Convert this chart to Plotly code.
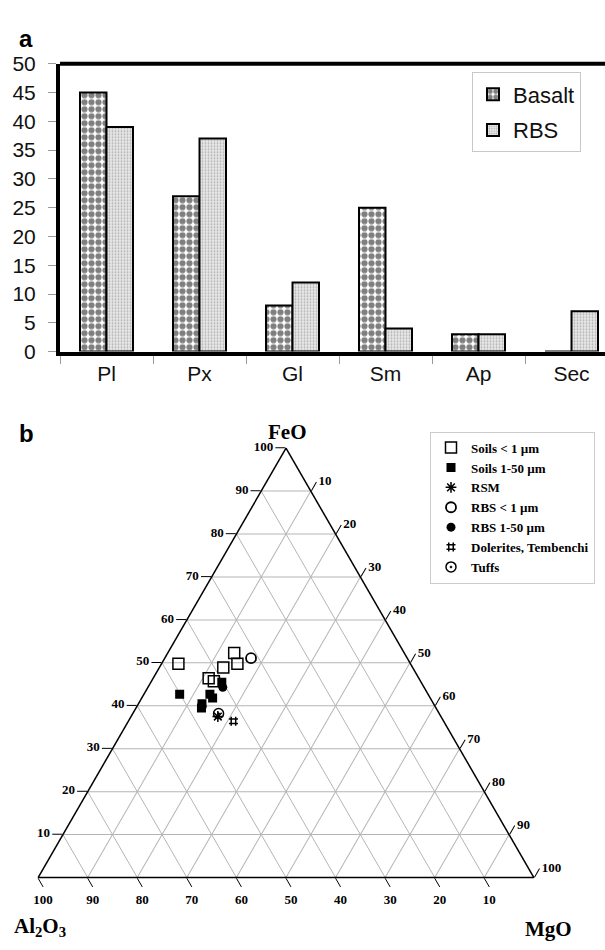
import plotly.graph_objects as go

# ---------------- data: panel a ----------------
categories = ["Pl", "Px", "Gl", "Sm", "Ap", "Sec"]
basalt = [45, 27, 8, 25, 3, 0]
rbs = [39, 37, 12, 4, 3, 7]
y_tickvals = [0, 5, 10, 15, 20, 25, 30, 35, 40, 45, 50]

# ---------------- data: panel b (FeO, Al2O3, MgO) ----------------
soils_fine_feo = [49.8, 52.3, 49.8, 48.9, 46.4, 45.7]
soils_fine_al = [46.8, 34.3, 34.9, 38.2, 42.4, 41.7]
soils_fine_mg = [3.4, 13.4, 15.3, 12.9, 11.2, 12.6]

soils_coarse_feo = [42.7, 42.7, 41.8, 40.5, 39.5, 45.5]
soils_coarse_al = [50.1, 44.0, 43.9, 46.7, 47.3, 40.2]
soils_coarse_mg = [7.2, 13.3, 14.3, 12.8, 13.2, 14.3]

rsm_feo = [37.5]
rsm_al = [45.0]
rsm_mg = [17.5]

rbs_fine_feo = [51.1]
rbs_fine_al = [31.5]
rbs_fine_mg = [17.4]

rbs_coarse_feo = [44.3, 39.9]
rbs_coarse_al = [40.6, 47.0]
rbs_coarse_mg = [15.1, 13.1]

dolerite_feo = [36.4]
dolerite_al = [42.4]
dolerite_mg = [21.2]

tuff_feo = [38.2]
tuff_al = [44.5]
tuff_mg = [17.3]

tern_ticks = [10, 20, 30, 40, 50, 60, 70, 80, 90, 100]

W, H = 605, 950
SANS = "Liberation Sans, Arial, sans-serif"
SERIF = "Liberation Serif, Times New Roman, serif"

fig = go.Figure()

fig.add_trace(go.Bar(
    x=categories, y=basalt, name="Basalt", legend="legend", legendgroup="g1",
    marker=dict(color="white", line=dict(color="black", width=2),
                pattern=dict(shape=".", size=7, solidity=0.62,
                             fgcolor="black", bgcolor="white")),
))
fig.add_trace(go.Bar(
    x=categories, y=rbs, name="RBS", legend="legend", legendgroup="g2",
    marker=dict(color="white", line=dict(color="black", width=2),
                pattern=dict(shape=".", size=3, solidity=0.3,
                             fgcolor="#777777", bgcolor="#e8e8e8")),
))

def tern(name, a, b, c, symbol, size=10, lw=1.5):
    fig.add_trace(go.Scatterternary(
        a=a, b=b, c=c, mode="markers", name=name, legend="legend2",
        marker=dict(symbol=symbol, size=size, color="black",
                    line=dict(color="black", width=lw)),
    ))

tern("Soils < 1 µm", soils_fine_feo, soils_fine_al, soils_fine_mg, "square-open", 11)
tern("Soils 1-50 µm", soils_coarse_feo, soils_coarse_al, soils_coarse_mg, "square", 9, 0)
tern("RSM", rsm_feo, rsm_al, rsm_mg, "asterisk-open", 9, 1.5)
tern("RBS < 1 µm", rbs_fine_feo, rbs_fine_al, rbs_fine_mg, "circle-open", 10, 1.8)
tern("RBS 1-50 µm", rbs_coarse_feo, rbs_coarse_al, rbs_coarse_mg, "circle", 9, 0)
tern("Dolerites, Tembenchi", dolerite_feo, dolerite_al, dolerite_mg, "hash-open", 9, 1.5)
tern("Tuffs", tuff_feo, tuff_al, tuff_mg, "circle-open-dot", 10, 1.5)

tick_font = dict(family=SERIF, size=13, color="black", weight="bold")
title_font = dict(family=SERIF, size=21, color="black", weight="bold")

def tern_axis():
    return dict(
        title=dict(text=""),
        tickmode="array", tickvals=tern_ticks,
        ticks="outside", ticklen=10, tickcolor="black", tickwidth=1.2,
        tickfont=tick_font,
        showline=True, linecolor="black", linewidth=1.5,
        showgrid=True, gridcolor="#b5b5b5", gridwidth=1,
        min=0,
    )

def ann(text, x, y, font, xanchor="center"):
    return dict(text=text, x=x / W, y=1 - y / H, xref="paper", yref="paper",
                xanchor=xanchor, yanchor="middle", showarrow=False, font=font)

fig.update_layout(
    width=W, height=H,
    margin=dict(l=0, r=0, t=0, b=0),
    paper_bgcolor="white", plot_bgcolor="white",
    barmode="group", bargap=0.43, bargroupgap=0,
    xaxis=dict(
        domain=[60 / W, 1.0], type="category", range=[-0.5, 5.36],
        showline=True, linecolor="black", linewidth=4,
        ticks="outside", tickson="boundaries", ticklen=8, tickcolor="#999",
        tickfont=dict(family=SANS, size=21, color="#111"),
        showgrid=False, zeroline=False,
    ),
    yaxis=dict(
        domain=[1 - 348 / H, 1 - 53 / H], range=[0, 50],
        tickmode="array", tickvals=y_tickvals,
        showline=True, linecolor="black", linewidth=4,
        ticks="outside", ticklen=8, tickcolor="#999",
        ticklabelstandoff=8,
        tickfont=dict(family=SANS, size=21, color="#111"),
        showgrid=False, zeroline=False,
    ),
    shapes=[dict(type="line", xref="x domain", yref="y domain",
                 x0=0, x1=1, y0=1, y1=1,
                 line=dict(color="black", width=4))],
    legend=dict(
        x=472 / W, y=1 - 62 / H, xanchor="left", yanchor="top",
        bgcolor="white", bordercolor="#c8c8c8", borderwidth=1,
        font=dict(family=SANS, size=22, color="#111"),
        traceorder="grouped", tracegroupgap=4, itemwidth=30,
    ),
    legend2=dict(
        x=430 / W, y=1 - 430 / H, xanchor="left", yanchor="top",
        bgcolor="white", bordercolor="#cccccc", borderwidth=1,
        font=dict(family=SERIF, size=13, color="black", weight="bold"),
    ),
    ternary=dict(
        domain=dict(x=[32 / W, 540 / W], y=[1 - 887 / H, 1 - 447 / H]),
        sum=100, bgcolor="white",
        aaxis=tern_axis(), baxis=tern_axis(), caxis=tern_axis(),
    ),
    annotations=[
        ann("<b>a</b>", 26, 27, dict(family=SANS, size=24, color="black")),
        ann("<b>b</b>", 26, 432, dict(family=SANS, size=24, color="black")),
        ann("FeO", 287, 430, title_font),
        ann("Al<sub>2</sub>O<sub>3</sub>", 12, 938, title_font, "left"),
        ann("MgO", 548, 940, title_font),
    ],
)

fig.write_html("out.html", config={"displayModeBar": False},
               post_script="document.body.style.margin='0px';")
